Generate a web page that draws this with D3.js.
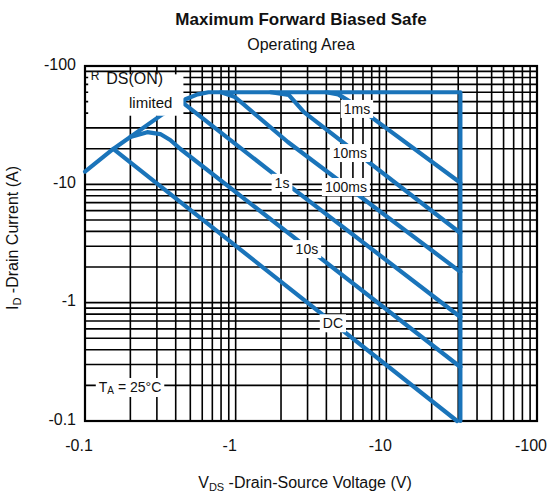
<!DOCTYPE html>
<html>
<head>
<meta charset="utf-8">
<script src="https://cdn.jsdelivr.net/npm/d3@7"></script>
<style>
  body { margin: 0; background: #fff; }
  text { font-family: "Liberation Sans", Arial, sans-serif; fill: #111; }
</style>
</head>
<body>
<div id="chart"></div>
<script>
// log-log SOA, values (V and I in absolute value)
var tickValues = [0.1, 1, 10, 100];
var tickLabels = ["-0.1", "-1", "-10", "-100"];

var rdsLine = [[0.1, 12.8], [0.154, 19.9], [0.326, 39], [0.443, 49.3]];
var envelope = [[0.443, 49.3], [0.464, 52.3], [0.558, 57.6], [0.66, 60], [31, 60], [31, 0.1]];
var line1ms = [[3.98, 60], [4.79, 57.6], [5.85, 49.3], [31, 10.3]];
var line10ms = [[1.71, 60], [2.25, 57], [2.84, 40.7], [31, 3.88]];
var line100ms = [[0.8, 60], [0.98, 55], [1.13, 47.3], [2.22, 22.8], [31, 1.82]];
var line1s = [[0.443, 49.3], [1.71, 12.8], [31, 0.757]];
var line10s = [[0.2, 25.1], [0.259, 27.6], [0.316, 26.6], [0.368, 23.7], [0.43, 19.9], [31, 0.286]];
var lineDC = [[0.154, 19.9], [29.5, 0.1]];

var curveLabels = ["1ms", "10ms", "100ms", "1s", "10s", "DC"];
var curveLabelV = [6.38, 5.73, 5.39, 2.03, 2.97, 4.42];
var curveLabelI = [43.4, 18.4, 9.5, 10.3, 2.84, 0.67];

var width = 550, height = 493;
var plotL = 85, plotR = 537, plotT = 66, plotB = 421;

var x = d3.scaleLog().domain([0.1, 100]).range([plotL, plotR]);
var y = d3.scaleLog().domain([0.1, 100]).range([plotB, plotT]);

var svg = d3.select("#chart").append("svg")
    .attr("width", width)
    .attr("height", height);

// grille log
var gridVals = [];
[0.1, 1, 10].forEach(function(d) {
    for (var k = 1; k <= 9; k++) gridVals.push(d * k);
});

var grid = svg.append("g").attr("stroke", "#000").attr("stroke-width", 1.6);
grid.selectAll(".vx").data(gridVals).enter().append("line")
    .attr("x1", function(d) { return x(d); }).attr("x2", function(d) { return x(d); })
    .attr("y1", plotT).attr("y2", plotB);
grid.selectAll(".hy").data(gridVals).enter().append("line")
    .attr("y1", function(d) { return y(d); }).attr("y2", function(d) { return y(d); })
    .attr("x1", plotL).attr("x2", plotR);

svg.append("rect")
    .attr("x", plotL).attr("y", plotT)
    .attr("width", plotR - plotL).attr("height", plotB - plotT)
    .attr("fill", "none").attr("stroke", "#000").attr("stroke-width", 2.2);

// courbes
var line = d3.line()
    .x(function(d) { return x(d[0]); })
    .y(function(d) { return y(d[1]); });

var series = [rdsLine, envelope, line1ms, line10ms, line100ms, line1s, line10s, lineDC];
svg.append("g").selectAll("path").data(series).enter().append("path")
    .attr("d", line)
    .attr("fill", "none")
    .attr("stroke", "#1a74ba")
    .attr("stroke-width", 4.2)
    .attr("stroke-linejoin", "round")
    .attr("stroke-linecap", "round");

// etiquettes avec fond blanc
function boxedText(g, pad) {
    var bb = g.node().getBBox();
    g.insert("rect", ":first-child")
        .attr("x", bb.x - pad[0]).attr("y", bb.y - pad[1])
        .attr("width", bb.width + 2 * pad[0]).attr("height", bb.height + 2 * pad[1])
        .attr("fill", "#fff");
}

curveLabels.forEach(function(t, i) {
    var g = svg.append("g");
    g.append("text")
        .attr("x", x(curveLabelV[i])).attr("y", y(curveLabelI[i]))
        .attr("dy", "0.36em")
        .attr("text-anchor", "middle")
        .style("font-size", "14px")
        .text(t);
    boxedText(g, [3, 1]);
});

// RDS(ON) limited
svg.append("rect")
    .attr("x", x(0.105)).attr("y", y(85))
    .attr("width", x(0.45) - x(0.105)).attr("height", y(38) - y(85))
    .attr("fill", "#fff");
var rds = svg.append("text")
    .attr("x", x(0.109)).attr("y", y(70))
    .attr("text-anchor", "start")
    .style("font-size", "16px");
rds.append("tspan").style("font-size", "12px").attr("dy", "-4").text("R");
rds.append("tspan").attr("dx", "7").attr("dy", "4").text("DS(ON)");
svg.append("text")
    .attr("x", x(0.38)).attr("y", y(44))
    .attr("text-anchor", "end")
    .style("font-size", "15px")
    .text("limited");

// TA = 25°C
var ta = svg.append("g");
var taText = ta.append("text")
    .attr("x", x(0.199)).attr("y", y(0.194))
    .attr("dy", "0.36em")
    .attr("text-anchor", "middle")
    .style("font-size", "14px");
taText.append("tspan").text("T");
taText.append("tspan").style("font-size", "10px").attr("dy", "2").text("A");
taText.append("tspan").attr("dy", "-2").text(" = 25°C");
boxedText(ta, [3, 1]);

// axes
svg.selectAll(".xt").data(tickValues).enter().append("text")
    .attr("x", function(d) { return x(d) - 6; })
    .attr("y", 451)
    .attr("text-anchor", "middle")
    .style("font-size", "16px")
    .text(function(d, i) { return tickLabels[i]; });

svg.selectAll(".yt").data(tickValues).enter().append("text")
    .attr("x", 76)
    .attr("y", function(d) { return y(d) - 2; })
    .attr("dy", "0.36em")
    .attr("text-anchor", "end")
    .style("font-size", "16px")
    .text(function(d, i) { return tickLabels[i]; });

var xt = svg.append("text")
    .attr("x", 305).attr("y", 488)
    .attr("text-anchor", "middle")
    .style("font-size", "16px");
xt.append("tspan").text("V");
xt.append("tspan").style("font-size", "11px").attr("dy", "3").text("DS");
xt.append("tspan").attr("dy", "-3").text(" -Drain-Source Voltage (V)");

var yt = svg.append("text")
    .attr("transform", "translate(18,238) rotate(-90)")
    .attr("text-anchor", "middle")
    .style("font-size", "16px");
yt.append("tspan").text("I");
yt.append("tspan").style("font-size", "11px").attr("dy", "3").text("D");
yt.append("tspan").attr("dy", "-3").text(" -Drain Current (A)");

// titre
svg.append("text")
    .attr("x", 301).attr("y", 25)
    .attr("text-anchor", "middle")
    .style("font-size", "17px").style("font-weight", "bold")
    .text("Maximum Forward Biased Safe");
svg.append("text")
    .attr("x", 301).attr("y", 50)
    .attr("text-anchor", "middle")
    .style("font-size", "16px")
    .text("Operating Area");
</script>
</body>
</html>
